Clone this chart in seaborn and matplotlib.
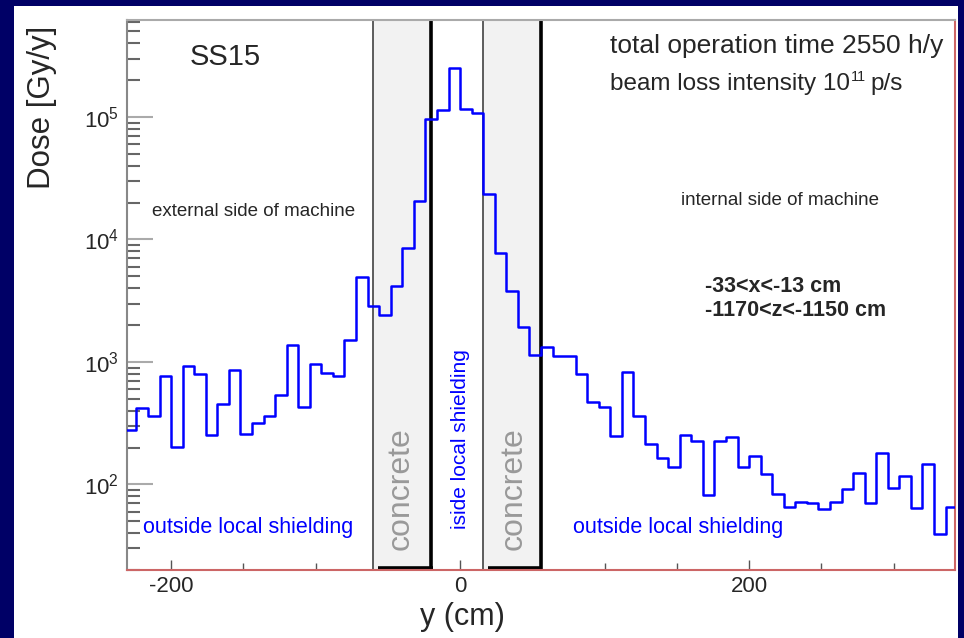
import numpy as np
import pandas as pd
import matplotlib
matplotlib.use("Agg")
import matplotlib.pyplot as plt
import matplotlib.transforms as mtransforms
from matplotlib.patches import Rectangle
from matplotlib.ticker import LogLocator, NullFormatter, MultipleLocator, FixedLocator
import seaborn as sns

# ---------------- data ----------------
# bin edges (cm) along y
bin_edges = [-232, -224, -216, -208, -200, -192, -184, -176, -168, -160, -152, -144,
             -136, -128, -120, -112, -104, -96, -88, -80, -72, -64, -56, -48,
             -40, -32, -24, -16, -8, 0, 8, 16, 24, 32, 40, 48,
             56, 64, 72, 80, 88, 96, 104, 112, 120, 128, 136, 144,
             152, 160, 168, 176, 184, 192, 200, 208, 216, 224, 232, 240,
             248, 256, 264, 272, 280, 288, 296, 304, 312, 320, 328, 336, 344]
# dose per bin (Gy/y)
dose = [277, 417, 362, 774, 201, 935, 794, 252, 452, 855, 258, 316,
        362, 535, 1369, 430, 958, 819, 769, 1524, 4940, 2864, 2404, 4169,
        8590, 20500, 97000, 115000, 253000, 117000, 107000, 23700, 7820, 3800, 1930, 1134,
        1326, 1120, 1110, 795, 467, 430, 250, 826, 363, 214, 165, 140,
        253, 226, 82, 226, 242, 140, 171, 121, 83, 65, 72, 71,
        63, 72, 92, 123, 71, 181, 93, 118, 64, 146, 39, 65]
# concrete shielding walls (cm)
concrete_ranges = [(-60, -20), (16, 56)]
x_ticks = [-200, 0, 200]

# ---------------- style ----------------
sns.set_style("ticks")
plt.rcParams['font.family'] = ['Liberation Sans', 'DejaVu Sans']
plt.rcParams['axes.unicode_minus'] = False

W, H = 964, 638
def fx(px):
    return px / W
def fy(py):
    return 1 - py / H

fig = plt.figure(figsize=(W / 100, H / 100), dpi=100)
fig.patch.set_facecolor('#000066')
fig.add_artist(Rectangle((fx(14), 0), fx(958) - fx(14), fy(6), transform=fig.transFigure,
                         facecolor='white', edgecolor='none', zorder=-5))

ax = fig.add_axes([fx(127), fy(570), fx(955) - fx(127), fy(20) - fy(570)])
ax.set_facecolor('white')

edges = np.array(bin_edges, dtype=float)
centers = (edges[:-1] + edges[1:]) / 2
df = pd.DataFrame({'y': centers, 'dose': dose})

sns.histplot(data=df, x='y', weights='dose', bins=bin_edges, element='step', fill=False,
             color='#0000ff', linewidth=1.8, ax=ax, zorder=4)
ax.set_yscale('log')

# concrete walls
blend = mtransforms.blended_transform_factory(ax.transData, ax.transAxes)
for x0, x1 in concrete_ranges:
    ax.axvspan(x0, x1, facecolor='#f2f2f2', edgecolor='none', zorder=1)
    ax.axvline(x0, color='#505050', lw=1.3, zorder=2)
    ax.axvline(x1, color='black', lw=2.6, zorder=2)
    ax.plot([x0 + 3, x1 + 1], [0.004, 0.004], transform=blend, color='black', lw=2.6,
            zorder=2, clip_on=False, solid_capstyle='butt')

ax.set_xlim(-230.5, 342.5)
ax.set_ylim(20, 6.2e5)
ax.set_xlabel('')
ax.set_ylabel('')

ax.xaxis.set_major_locator(FixedLocator(x_ticks))
ax.xaxis.set_minor_locator(MultipleLocator(50))
ax.yaxis.set_major_locator(LogLocator(base=10, numticks=12))
ax.yaxis.set_minor_locator(LogLocator(base=10, subs=np.arange(2, 10), numticks=12))
ax.yaxis.set_minor_formatter(NullFormatter())

ax.tick_params(axis='y', which='major', direction='in', length=19, width=1.5,
               color='#aaaaaa', labelsize=16, pad=6, right=False)
ax.tick_params(axis='y', which='minor', direction='in', length=9.5, width=1.5,
               color='#666666', right=False)
ax.tick_params(axis='x', which='major', direction='in', length=7, width=1,
               color='#555555', labelsize=16, pad=4, top=False)
ax.tick_params(axis='x', which='minor', direction='in', length=5, width=1,
               color='#555555', top=False)

for side in ['top', 'right', 'bottom', 'left']:
    ax.spines[side].set_visible(True)
    ax.spines[side].set_linewidth(1.5)
ax.spines['left'].set_color('#888888')
ax.spines['top'].set_color('#aaaaaa')
ax.spines['right'].set_color('#cc6666')
ax.spines['bottom'].set_color('#cc6666')

# ---------------- texts ----------------
fig.text(fx(190), fy(57), 'SS15', fontsize=21, ha='left', va='center')
fig.text(fx(610), fy(46), 'total operation time 2550 h/y', fontsize=19, ha='left', va='center')

renderer = fig.canvas.get_renderer()
t1 = fig.text(fx(610), fy(84), 'beam loss intensity 10', fontsize=17.5, ha='left', va='center')
bb1 = t1.get_window_extent(renderer)
t2 = fig.text(bb1.x1 / W + fx(1), fy(77), '11', fontsize=10.5, ha='left', va='center')
bb2 = t2.get_window_extent(renderer)
fig.text(bb2.x1 / W + fx(4), fy(84), 'p/s', fontsize=17.5, ha='left', va='center')

fig.text(fx(152), fy(211), 'external side of machine', fontsize=13.5, ha='left', va='center')
fig.text(fx(681), fy(200), 'internal side of machine', fontsize=13.5, ha='left', va='center')
fig.text(fx(705), fy(286), '-33<x<-13 cm', fontsize=15.5, weight='bold', ha='left', va='center')
fig.text(fx(705), fy(311), '-1170<z<-1150 cm', fontsize=15.5, weight='bold', ha='left', va='center')
fig.text(fx(143), fy(527), 'outside local shielding', fontsize=15.5, color='#0000ff',
         ha='left', va='center')
fig.text(fx(573), fy(527), 'outside local shielding', fontsize=15.5, color='#0000ff',
         ha='left', va='center')
fig.text(fx(401), fy(489), 'concrete', rotation=90, fontsize=23, color='#999999',
         ha='center', va='center')
fig.text(fx(514), fy(489), 'concrete', rotation=90, fontsize=23, color='#999999',
         ha='center', va='center')
fig.text(fx(460), fy(439), 'iside local shielding', rotation=90, fontsize=15,
         color='#0000ff', ha='center', va='center')
fig.text(fx(42), fy(107), 'Dose [Gy/y]', rotation=90, fontsize=22.5, ha='center', va='center')
fig.text(fx(462), fy(617), 'y (cm)', fontsize=22, ha='center', va='center')

fig.savefig('out.png', dpi=100, facecolor=fig.get_facecolor())
